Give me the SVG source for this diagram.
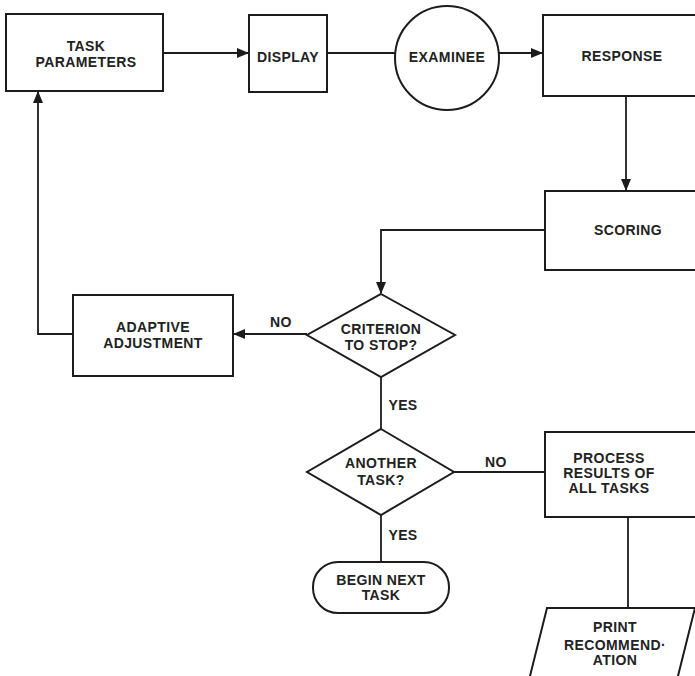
<svg xmlns="http://www.w3.org/2000/svg" width="695" height="676" viewBox="0 0 695 676">
<style>
.s{fill:#fff;stroke:#1c1c1c;stroke-width:2}
.c{fill:none;stroke:#1c1c1c;stroke-width:1.8}
text{font-family:"Liberation Sans",Arial,Helvetica,sans-serif;font-weight:bold;font-size:14px;fill:#222;text-anchor:middle;letter-spacing:0.4px}
</style>
<defs>
<marker id="ah" markerWidth="12" markerHeight="10" refX="11" refY="5" orient="auto" markerUnits="userSpaceOnUse">
<path d="M0,0 L12,5 L0,10 Z" fill="#1c1c1c"/>
</marker>
</defs>
<rect width="695" height="676" fill="#fff"/>
<g id="connectors">
<line class="c" x1="163" y1="53" x2="248" y2="53" marker-end="url(#ah)"/>
<line class="c" x1="327" y1="53" x2="396" y2="53"/>
<line class="c" x1="499" y1="53" x2="542" y2="53" marker-end="url(#ah)"/>
<line class="c" x1="626" y1="96" x2="626" y2="190" marker-end="url(#ah)"/>
<polyline class="c" points="545,230 381,230 381,293" marker-end="url(#ah)"/>
<line class="c" x1="307" y1="334" x2="234" y2="334" marker-end="url(#ah)"/>
<polyline class="c" points="73,334 38,334 38,92" marker-end="url(#ah)"/>
<line class="c" x1="381" y1="377" x2="381" y2="429"/>
<line class="c" x1="454" y1="472" x2="545" y2="472"/>
<line class="c" x1="381" y1="515" x2="381" y2="562"/>
<line class="c" x1="628" y1="517" x2="628" y2="608"/>
<text x="281" y="327">NO</text>
<text x="403" y="410">YES</text>
<text x="496" y="467">NO</text>
<text x="403" y="540">YES</text>
</g>
<g id="task-parameters">
<rect class="s" x="6" y="14" width="157" height="77"/>
<text x="86" y="51">TASK</text>
<text x="86" y="67">PARAMETERS</text>
</g>
<g id="display">
<rect class="s" x="249" y="15" width="78" height="77"/>
<text x="288" y="62">DISPLAY</text>
</g>
<g id="examinee">
<circle class="s" cx="447" cy="58" r="52"/>
<text x="447" y="62">EXAMINEE</text>
</g>
<g id="response">
<rect class="s" x="543" y="15" width="160" height="81"/>
<text x="622" y="61">RESPONSE</text>
</g>
<g id="scoring">
<rect class="s" x="545" y="191" width="160" height="79"/>
<text x="628" y="235">SCORING</text>
</g>
<g id="criterion">
<polygon class="s" points="381,294 455,335 381,377 307,335"/>
<text x="381" y="334">CRITERION</text>
<text x="381" y="350">TO STOP?</text>
</g>
<g id="adaptive-adjustment">
<rect class="s" x="73" y="295" width="160" height="81"/>
<text x="153" y="332">ADAPTIVE</text>
<text x="153" y="348">ADJUSTMENT</text>
</g>
<g id="another-task">
<polygon class="s" points="381,429 454,472 381,515 307,472"/>
<text x="381" y="468">ANOTHER</text>
<text x="381" y="485">TASK?</text>
</g>
<g id="process-results">
<rect class="s" x="545" y="432" width="160" height="85"/>
<text x="609" y="463">PROCESS</text>
<text x="609" y="478">RESULTS OF</text>
<text x="609" y="493">ALL TASKS</text>
</g>
<g id="begin-next-task">
<rect class="s" x="313" y="562" width="136" height="51" rx="25" ry="25"/>
<text x="381" y="585">BEGIN NEXT</text>
<text x="381" y="600">TASK</text>
</g>
<g id="print-recommendation">
<polygon class="s" points="547,608 695,608 677,680 529,680"/>
<text x="615" y="632">PRINT</text>
<text x="615" y="650">RECOMMEND·</text>
<text x="615" y="665">ATION</text>
</g>
</svg>
